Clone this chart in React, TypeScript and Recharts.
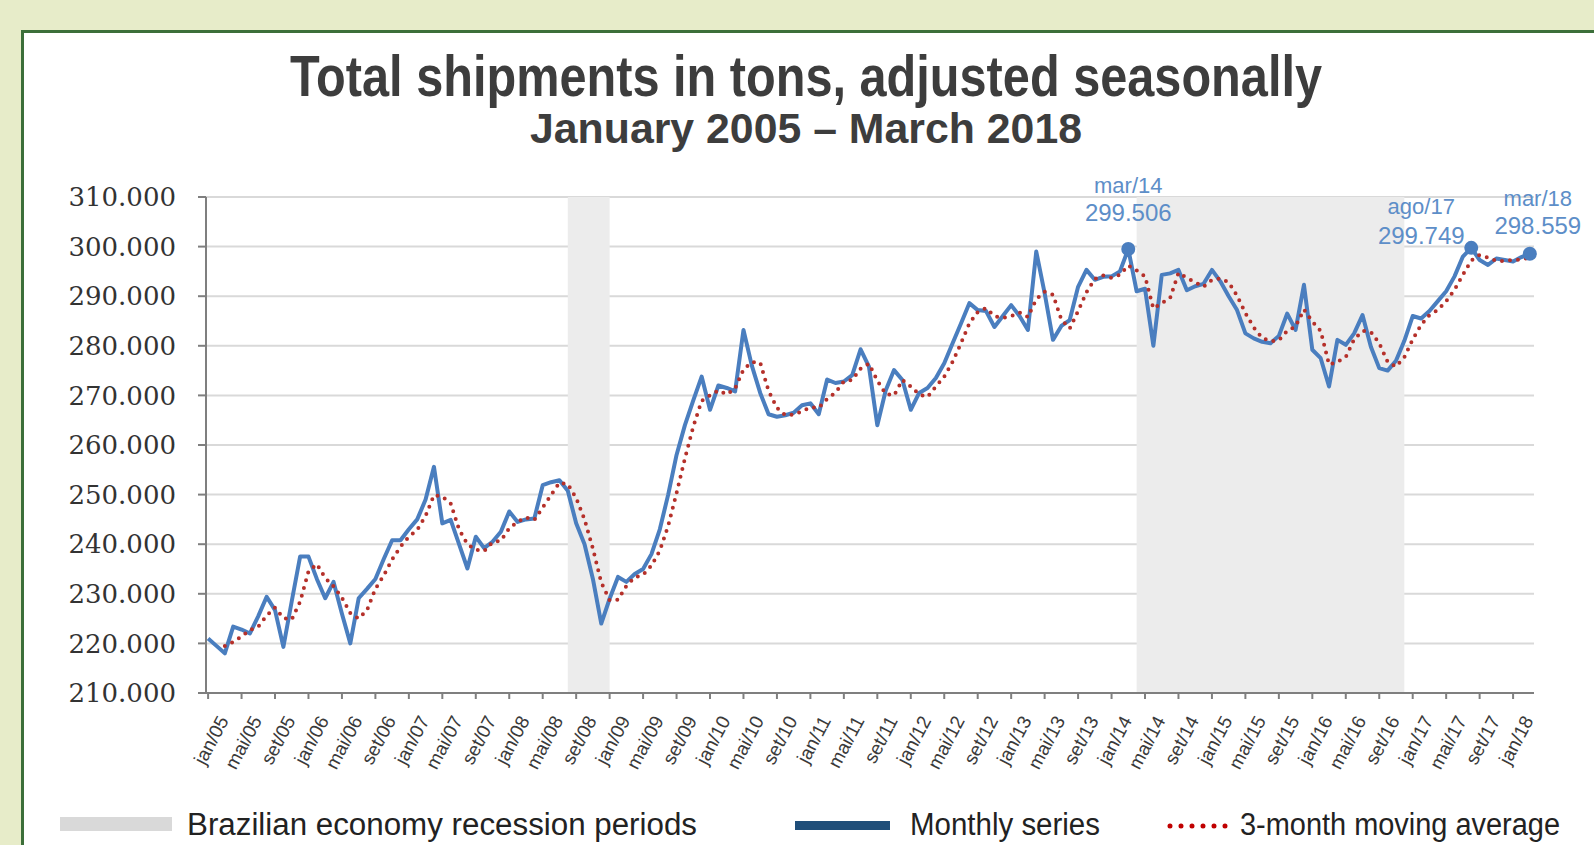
import React from 'react';
import { LineChart, Line, XAxis, YAxis, CartesianGrid, ReferenceArea } from 'recharts';

const monthNames = ['jan', 'fev', 'mar', 'abr', 'mai', 'jun', 'jul', 'ago', 'set', 'out', 'nov', 'dez'];

// total shipments, tons, seasonally adjusted (jan/05 .. mar/18)
const monthly = [
  221000, 219500, 218000, 223400, 222800, 222000, 225500, 229400, 226700, 219300, 228500, 237500,
  237500, 233000, 229100, 232400, 226000, 220000, 229100, 231000, 233000, 237000, 240800, 240800,
  243000, 245000, 249000, 255600, 244200, 244900, 240000, 235100, 241500, 239200, 240500, 242500,
  246600, 244500, 245000, 245200, 251900, 252500, 252900, 250800, 244200, 240000, 233000, 224000,
  229000, 233400, 232400, 234000, 235000, 238000, 243000, 250000, 258000, 264000, 269000, 273800,
  267100, 272000, 271500, 270800, 283200, 276000, 270500, 266200, 265700, 266000, 266500, 268000,
  268400, 266200, 273200, 272500, 272800, 274100, 279300, 275800, 264000, 271000, 275100, 273100,
  267100, 270500, 271500, 273500, 276500, 280500, 284500, 288600, 287200, 287000, 283800, 286000,
  288200, 286000, 283200, 299000, 290600, 281200, 284000, 285200, 291900, 295300, 293300, 293900,
  294000, 295000, 299506, 291000, 291500, 280000, 294300, 294600, 295300, 291200, 292000, 292500,
  295300, 293000, 290000, 287200, 282500, 281500, 280800, 280500, 282000, 286500, 283200, 292300,
  279200, 277500, 271800, 281200, 280200, 282500, 286200, 279800, 275500, 275000, 277000, 281000,
  286000, 285500, 287000, 289000, 291000, 294000, 298000, 299749, 297300, 296300, 297600, 297300,
  297000, 297900, 298559,
];

// 3-month moving average
const movingAvg = [
  null, null, 219500, 220300, 221400, 222700, 223400, 225600, 227200, 225100, 224800, 228400,
  234500, 236000, 233200, 231500, 229200, 226100, 225000, 226700, 231000, 233700, 236900, 239500,
  241500, 242900, 245700, 249900, 249600, 248200, 243000, 240000, 238900, 238600, 240400, 240700,
  243200, 244500, 245400, 244900, 247400, 249900, 252400, 252100, 249300, 245000, 239100, 232300,
  228700, 228800, 231600, 233300, 233800, 235700, 238700, 243700, 250300, 257300, 263700, 268900,
  270000, 271000, 270200, 271400, 275200, 276700, 276600, 270900, 267500, 266000, 266100, 266800,
  267600, 267500, 269300, 270600, 272800, 273100, 275400, 276400, 273000, 270300, 270000, 273100,
  271800, 270200, 269700, 271800, 273800, 276800, 280500, 284500, 286800, 287600, 286000, 285600,
  286000, 286700, 285800, 289400, 290900, 290300, 285300, 283500, 287000, 290800, 293500, 294200,
  293700, 294300, 296200, 295200, 294000, 287500, 288600, 289600, 294700, 293700, 292800, 291900,
  293300, 293600, 292800, 290100, 286600, 283700, 281600, 280900, 281100, 283000, 283900, 287300,
  284900, 283000, 276200, 276800, 277700, 281300, 283000, 282800, 280500, 276800, 275800, 277700,
  281300, 284200, 286200, 287200, 289000, 291300, 294300, 297200, 298300, 297800, 297100, 297100,
  297300, 297400, 297800,
];

const yTicks = [210000, 220000, 230000, 240000, 250000, 260000, 270000, 280000, 290000, 300000, 310000];

const recessions = [
  { from: 'ago/08', to: 'jan/09' },
  { from: 'abr/14', to: 'dez/16' },
];

const highlights = ['mar/14', 'ago/17', 'mar/18'];

const months = monthly.map((_, i) => `${monthNames[i % 12]}/${String(5 + Math.floor(i / 12)).padStart(2, '0')}`);
const xTicks = months.map((_, i) => i).filter((i) => i % 4 === 0);

const data = months.map((m, i) => ({ i, month: m, monthly: monthly[i], avg: movingAvg[i] }));

const fmt = (v: number) => String(v).replace(/\B(?=(\d{3})+(?!\d))/g, '.');

const BLUE = '#4a7ebf';
const RED = '#b5302a';

// where each annotation sits relative to its marker
const labelPos: Record<string, { dx: number; dy1: number; dy2: number }> = {
  'mar/14': { dx: 0, dy1: -56, dy2: -28 },
  'ago/17': { dx: -50, dy1: -34, dy2: -4 },
  'mar/18': { dx: 8, dy1: -48, dy2: -20 },
};

const XTick = (props: any) => {
  const { x, y, payload } = props;
  return (
    <g transform={`translate(${x},${y})`}>
      <text
        x={0}
        y={0}
        transform="translate(9,13) rotate(-62)"
        textAnchor="end"
        dominantBaseline="hanging"
        fontFamily="Liberation Sans, Arial, sans-serif"
        fontSize={19}
        fill="#3a3a3a"
      >
        {months[payload.value]}
      </text>
    </g>
  );
};

const HighlightDot = (props: any) => {
  const { cx, cy, index } = props;
  const m = months[index];
  if (!highlights.includes(m)) return <g key={`d${index}`} />;
  const p = labelPos[m];
  return (
    <g key={`d${index}`}>
      <circle cx={cx} cy={cy} r={7} fill={BLUE} />
      <text x={cx + p.dx} y={cy + p.dy1} textAnchor="middle" fontFamily="Liberation Sans, Arial, sans-serif" fontSize={22} fill="#5d8ec8">
        {m}
      </text>
      <text x={cx + p.dx} y={cy + p.dy2} textAnchor="middle" fontFamily="Liberation Sans, Arial, sans-serif" fontSize={24} fill="#5d8ec8">
        {fmt(monthly[index])}
      </text>
    </g>
  );
};

export default function App() {
  return (
    <div style={{ position: 'absolute', left: 0, top: 0, width: 1594, height: 845, overflow: 'hidden', background: '#e7ecc9' }}>
      <div
        style={{
          position: 'absolute',
          left: 21,
          top: 30,
          width: 1640,
          height: 900,
          background: '#ffffff',
          border: '3px solid #3c6f3a',
          boxSizing: 'border-box',
        }}
      />
      <div style={{ position: 'absolute', left: 0, top: 0 }}>
        <LineChart width={1594} height={845} data={data} margin={{ top: 197, right: 60, bottom: 0, left: 0 }}>
          {recessions.map((r) => (
            <ReferenceArea
              key={r.from}
              x1={months.indexOf(r.from)}
              x2={months.indexOf(r.to)}
              y1={210000}
              y2={310000}
              fill="#ececec"
              fillOpacity={1}
              stroke="none"
            />
          ))}
          <CartesianGrid vertical={false} stroke="#d9d9d9" strokeWidth={2} />
          <XAxis
            type="number"
            dataKey="i"
            domain={[-0.25, 158.5]}
            ticks={xTicks}
            interval={0}
            height={152}
            tick={<XTick />}
            tickSize={6}
            stroke="#7f7f7f"
            strokeWidth={2}
          />
          <YAxis
            type="number"
            domain={[210000, 310000]}
            ticks={yTicks}
            width={206}
            tickSize={8}
            tickMargin={22}
            tickFormatter={fmt}
            stroke="#7f7f7f"
            strokeWidth={2}
            tick={{ fill: '#333333', fontSize: 26, fontFamily: 'DejaVu Serif, serif' }}
          />
          <Line
            type="linear"
            dataKey="monthly"
            stroke={BLUE}
            strokeWidth={4}
            strokeLinejoin="round"
            dot={false}
            activeDot={false}
            isAnimationActive={false}
          />
          <Line
            type="linear"
            dataKey="avg"
            stroke={RED}
            strokeWidth={4}
            strokeDasharray="0 8"
            strokeLinecap="round"
            dot={false}
            activeDot={false}
            isAnimationActive={false}
          />
          <Line
            type="linear"
            dataKey="monthly"
            stroke="none"
            dot={HighlightDot}
            activeDot={false}
            legendType="none"
            isAnimationActive={false}
          />
        </LineChart>
      </div>
      <svg width={1594} height={845} style={{ position: 'absolute', left: 0, top: 0, pointerEvents: 'none' }}>
        <text x={806} y={96} textAnchor="middle" fontFamily="Liberation Sans, Arial, sans-serif" fontWeight="bold" fontSize={58} fill="#3d3d3d" textLength={1032} lengthAdjust="spacingAndGlyphs">
          Total shipments in tons, adjusted seasonally
        </text>
        <text x={806} y={143} textAnchor="middle" fontFamily="Liberation Sans, Arial, sans-serif" fontWeight="bold" fontSize={42} fill="#3d3d3d" textLength={552} lengthAdjust="spacingAndGlyphs">
          January 2005 – March 2018
        </text>
        <rect x={60} y={817} width={112} height={14} fill="#d9d9d9" />
        <text x={187} y={835} fontFamily="Liberation Sans, Arial, sans-serif" fontSize={31} fill="#222222" textLength={510} lengthAdjust="spacingAndGlyphs">
          Brazilian economy recession periods
        </text>
        <rect x={795} y={821} width={95} height={9} fill="#1f4e79" />
        <text x={910} y={835} fontFamily="Liberation Sans, Arial, sans-serif" fontSize={31} fill="#222222" textLength={190} lengthAdjust="spacingAndGlyphs">
          Monthly series
        </text>
        <line x1={1170} y1={826} x2={1226} y2={826} stroke="#c00000" strokeWidth={5} strokeDasharray="0 11" strokeLinecap="round" />
        <text x={1240} y={835} fontFamily="Liberation Sans, Arial, sans-serif" fontSize={31} fill="#222222" textLength={320} lengthAdjust="spacingAndGlyphs">
          3-month moving average
        </text>
      </svg>
    </div>
  );
}
